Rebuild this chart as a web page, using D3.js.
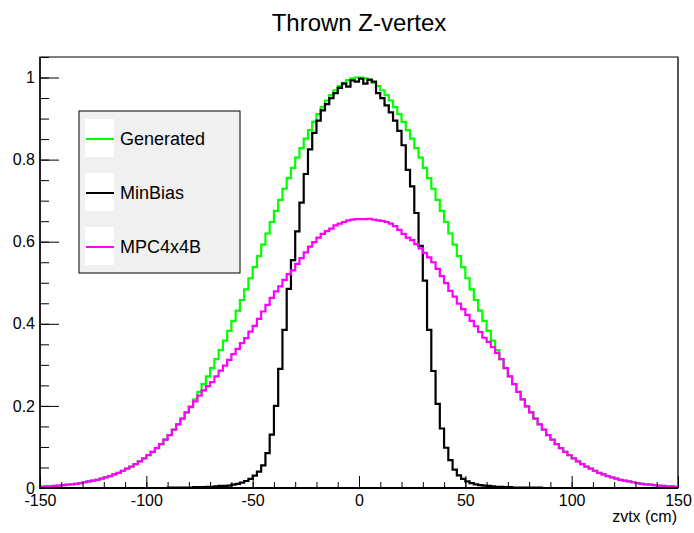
<!DOCTYPE html>
<meta charset="utf-8">
<script src="https://d3js.org/d3.v7.min.js"></script>
<style>
  body { margin: 0; background: #fff; }
  text { font-family: "Liberation Sans", Arial, Helvetica, sans-serif; }
</style>
<div id="chart"></div>
<script>

// histogram binning: 150 bins of 2 cm from -150 to 150
var binLow = -150, binWidth = 2;

var seriesNames = ["Generated", "MinBias", "MPC4x4B"];
var seriesColors = ["#00ff00", "#000000", "#ff00ff"];

var generated = [
  0.003,0.004,0.004,0.005,0.006,0.007,0.008,0.009,0.010,0.012,
  0.014,0.016,0.018,0.020,0.023,0.026,0.029,0.033,0.037,0.042,
  0.047,0.052,0.058,0.065,0.072,0.080,0.088,0.097,0.107,0.118,
  0.129,0.142,0.155,0.169,0.184,0.199,0.216,0.234,0.253,0.272,
  0.292,0.314,0.336,0.359,0.383,0.407,0.432,0.458,0.484,0.511,
  0.538,0.565,0.593,0.620,0.648,0.675,0.702,0.729,0.755,0.780,
  0.805,0.828,0.851,0.872,0.892,0.911,0.928,0.944,0.957,0.969,
  0.979,0.987,0.994,0.998,1.000,
  1.000,0.998,0.994,0.987,0.979,0.969,0.957,0.944,0.928,0.911,
  0.892,0.872,0.851,0.828,0.805,0.780,0.755,0.729,0.702,0.675,
  0.648,0.620,0.593,0.565,0.538,0.511,0.484,0.458,0.432,0.407,
  0.383,0.359,0.336,0.314,0.292,0.272,0.253,0.234,0.216,0.199,
  0.184,0.169,0.155,0.142,0.129,0.118,0.107,0.097,0.088,0.080,
  0.072,0.065,0.058,0.052,0.047,0.042,0.037,0.033,0.029,0.026,
  0.023,0.020,0.018,0.016,0.014,0.012,0.010,0.009,0.008,0.007,
  0.006,0.005,0.004,0.004,0.003
];

var minBias = [
  0,0,0,0,0,0,0,0,0,0,
  0,0,0,0,0,0,0,0,0,0,
  0,0,0,0,0,0,0,0,0,0,
  0.001,0.001,0.001,0.001,0.001,
  0.001,0.002,0.002,0.002,0.003,0.003,0.004,0.005,0.005,0.006,
  0.008,0.010,0.013,0.017,0.022,0.030,0.040,0.055,0.085,0.130,
  0.200,0.290,0.385,0.485,0.555,0.625,0.695,0.765,0.825,0.865,
  0.895,0.920,0.935,0.950,0.962,0.975,0.985,0.978,0.993,0.990,
  0.997,0.985,0.995,0.990,0.962,0.950,0.932,0.915,0.895,0.870,
  0.835,0.775,0.735,0.670,0.590,0.505,0.385,0.285,0.205,0.145,
  0.098,0.068,0.045,0.031,0.022,0.016,0.012,0.009,0.007,0.006,
  0.005,0.004,0.003,0.003,0.002,0.002,0.001,0.001,0.001,0.001,
  0.001,0.001,0.001,0,0,
  0,0,0,0,0,0,0,0,0,0,
  0,0,0,0,0,0,0,0,0,0,
  0,0,0,0,0,0,0,0,0,0
];

var mpc = [
  0.003,0.004,0.004,0.005,0.006,0.007,0.008,0.009,0.010,0.012,
  0.014,0.016,0.018,0.020,0.023,0.026,0.029,0.033,0.037,0.042,
  0.047,0.052,0.058,0.065,0.072,0.080,0.088,0.097,0.107,0.118,
  0.129,0.142,0.155,0.169,0.184,
  0.197,0.211,0.225,0.238,0.248,0.258,0.272,0.286,0.298,0.312,
  0.326,0.339,0.353,0.365,0.381,0.395,0.412,0.430,0.446,0.463,
  0.479,0.491,0.507,0.521,0.530,0.546,0.560,0.574,0.588,0.599,
  0.610,0.619,0.626,0.632,0.640,0.644,0.648,0.652,0.654,0.655,
  0.655,0.655,0.656,0.654,0.652,0.651,0.648,0.644,0.638,0.629,
  0.619,0.610,0.604,0.594,0.584,0.573,0.562,0.550,0.534,0.516,
  0.499,0.480,0.466,0.449,0.436,0.422,0.407,0.394,0.380,0.366,
  0.356,0.343,0.329,0.314,
  0.292,0.272,0.253,0.234,0.216,0.199,0.184,0.169,0.155,0.142,
  0.129,0.118,0.107,0.097,0.088,0.080,0.072,0.065,0.058,0.052,
  0.047,0.042,0.037,0.033,0.029,0.026,0.023,0.020,0.018,0.016,
  0.014,0.012,0.010,0.009,0.008,0.007,0.006,0.005,0.004,0.004,
  0.003
];

var xMajor = [-150, -100, -50, 0, 50, 100, 150];
var yMajor = [0, 0.2, 0.4, 0.6, 0.8, 1];

var width = 694, height = 533;
var svg = d3.select("#chart").append("svg")
    .attr("width", width)
    .attr("height", height);

svg.append("rect").attr("width", width).attr("height", height).attr("fill", "#fff");

var x = d3.scaleLinear().domain([-150, 150]).range([40, 678]);
var y = d3.scaleLinear().domain([0, 1.05]).range([488, 57]);

// frame
svg.append("rect")
    .attr("x", 40).attr("y", 57)
    .attr("width", 638).attr("height", 431)
    .attr("fill", "none").attr("stroke", "#000").attr("stroke-width", 1);
svg.append("line")
    .attr("x1", 678).attr("x2", 678).attr("y1", 57).attr("y2", 488)
    .attr("stroke", "#555").attr("stroke-width", 2);

// histograms
svg.append("clipPath").attr("id", "clip")
  .append("rect").attr("x", 40).attr("y", 57).attr("width", 638).attr("height", 431);

var line = d3.line()
    .x(function(d){ return x(d[0]) })
    .y(function(d){ return y(d[1]) })
    .curve(d3.curveStepAfter);

function histPoints(values) {
  var pts = values.map(function(v, i){ return [binLow + i * binWidth, v] });
  pts.push([binLow + values.length * binWidth, values[values.length - 1]]);
  return pts;
}

var allSeries = [generated, minBias, mpc];
svg.append("g").attr("clip-path", "url(#clip)")
  .selectAll("path")
  .data(allSeries)
  .enter()
  .append("path")
    .attr("d", function(d){ return line(histPoints(d)) })
    .attr("fill", "none")
    .attr("stroke", function(d, i){ return seriesColors[i] })
    .attr("stroke-width", 2.2)
    .attr("stroke-linejoin", "miter");

// plain hyphen minus, as in the original
var plain = function(d){ return String(d) };

// y axis (ticks pointing inward)
var yMinor = d3.range(0, 1.0501, 0.05);
svg.append("g")
    .attr("transform", "translate(40,0)")
    .call(d3.axisLeft(y).tickValues(yMinor).tickSize(-9).tickFormat(""))
    .call(function(g){ g.select(".domain").remove() });
var yAx = svg.append("g")
    .attr("transform", "translate(40,0)")
    .call(d3.axisLeft(y).tickValues(yMajor).tickSize(-19).tickPadding(5).tickFormat(plain));
yAx.select(".domain").remove();
yAx.selectAll("text").attr("font-size", 16).attr("fill", "#000")
    .attr("font-family", "Liberation Sans, Arial, sans-serif");

// x axis
var xMinor = d3.range(-150, 151, 10);
svg.append("g")
    .attr("transform", "translate(0,488)")
    .call(d3.axisBottom(x).tickValues(xMinor).tickSize(-6).tickFormat(""))
    .call(function(g){ g.select(".domain").remove() });
var xAx = svg.append("g")
    .attr("transform", "translate(0,488)")
    .call(d3.axisBottom(x).tickValues(xMajor).tickSize(-12).tickPadding(7).tickFormat(plain));
xAx.select(".domain").remove();
xAx.selectAll("text").attr("font-size", 16).attr("fill", "#000")
    .attr("font-family", "Liberation Sans, Arial, sans-serif");

svg.selectAll(".tick line").attr("stroke", "#000");

// axis lines
svg.append("line").attr("x1", 40).attr("x2", 678).attr("y1", 488).attr("y2", 488)
    .attr("stroke", "#000").attr("stroke-width", 2);
svg.append("line").attr("x1", 40).attr("x2", 40).attr("y1", 57).attr("y2", 489)
    .attr("stroke", "#000").attr("stroke-width", 1.5);

// titles
svg.append("text")
    .attr("x", 359).attr("y", 31)
    .attr("text-anchor", "middle")
    .attr("font-size", 24)
    .text("Thrown Z-vertex");

svg.append("text")
    .attr("x", 677).attr("y", 522)
    .attr("text-anchor", "end")
    .attr("font-size", 16)
    .text("zvtx (cm)");

// legend
var legend = svg.append("g").attr("transform", "translate(79,111)");
legend.append("rect")
    .attr("width", 161).attr("height", 162)
    .attr("fill", "#f0f0f0").attr("stroke", "#000").attr("stroke-width", 1);

var entry = legend.selectAll(".entry")
    .data(seriesNames)
    .enter()
    .append("g")
      .attr("transform", function(d, i){ return "translate(0," + (28 + i * 54) + ")" });

entry.append("rect")
    .attr("x", 6).attr("y", -20).attr("width", 29).attr("height", 38)
    .attr("fill", "#fff");
entry.append("line")
    .attr("x1", 7).attr("x2", 35).attr("y1", 0).attr("y2", 0)
    .attr("stroke", function(d, i){ return seriesColors[i] })
    .attr("stroke-width", 2);
entry.append("text")
    .attr("x", 41).attr("y", 6)
    .attr("font-size", 18)
    .text(function(d){ return d });

</script>
